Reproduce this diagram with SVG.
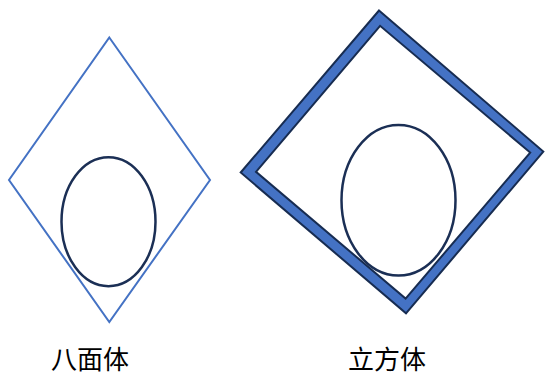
<svg xmlns="http://www.w3.org/2000/svg" width="545" height="376" viewBox="0 0 545 376">
<style>
.ell{fill:none;stroke:#1B2F55;stroke-width:2.5}
.lbl{font-family:"Noto Sans CJK SC","Liberation Serif",serif;font-size:26px;fill:#000}
</style>
<rect width="545" height="376" fill="#fff"/>
<g id="octahedron">
<polygon points="109.3,37.5 210,180 109.3,322 9,180" fill="none" stroke="#4472C4" stroke-width="2"/>
<ellipse class="ell" cx="108.5" cy="221.7" rx="47" ry="64.5"/>
<text class="lbl" x="51" y="369">八面体</text>
</g>
<g id="cube">
<path d="M379,10.5 L543.3,151.6 L406,313.3 L240.7,172.5 Z M380.1,25.8 L256,171.8 L405.6,298.6 L530.2,152.6 Z" fill="#4472C4" fill-rule="evenodd" stroke="#172C51" stroke-width="2" stroke-linejoin="miter"/>
<ellipse class="ell" cx="398.5" cy="200.2" rx="57" ry="75.3"/>
<text class="lbl" x="348" y="369">立方体</text>
</g>
<g id="connectors"/>
</svg>
